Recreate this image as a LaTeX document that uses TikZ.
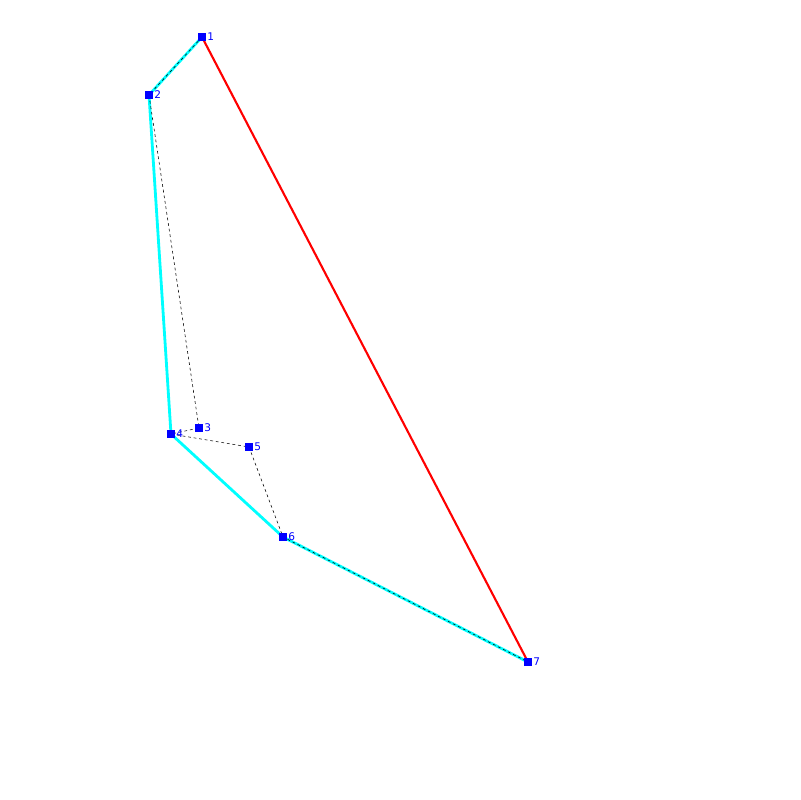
\documentclass[tikz,border=0pt]{standalone}
\usepackage{fontspec}
\setsansfont{DejaVu Sans}
\usetikzlibrary{backgrounds}
\definecolor{hullcyan}{RGB}{0,255,255}
\definecolor{ptblue}{RGB}{0,0,255}
\definecolor{edgered}{RGB}{255,0,0}

\begin{document}
\begin{tikzpicture}[x=0.025cm, y=-0.025cm,
	pt/.style={draw=none, fill=ptblue, rectangle, minimum size=6pt, inner sep=0pt,
		label={[font=\sffamily\fontsize{7.5}{8}\selectfont, text=ptblue, inner sep=0.5pt, label distance=0pt]right:#1}},
	obhod/.style={black, thin, dash pattern=on 2pt off 2pt},
	obolochka/.style={hullcyan, line width=2pt},
	zamyk/.style={edgered, line width=1.5pt}]
	% параметры
	\def\N{800} % размер поля в пикселях

	% поле
	\useasboundingbox (0,0) rectangle (\N,\N);

	% точки
	\node[pt=1] (p1) at (202,37)  {};
	\node[pt=2] (p2) at (149,95)  {};
	\node[pt=3] (p3) at (199,428) {};
	\node[pt=4] (p4) at (171,434) {};
	\node[pt=5] (p5) at (249,447) {};
	\node[pt=6] (p6) at (283,537) {};
	\node[pt=7] (p7) at (528,662) {};

	\begin{scope}[on background layer]
		% оболочка
		\draw[obolochka] (p1.center) -- (p2.center) -- (p4.center) -- (p6.center) -- (p7.center);
		\draw[zamyk] (p7.center) -- (p1.center);

		% обход точек
		\draw[obhod] (p1.center) -- (p2.center) -- (p3.center) -- (p4.center)
			-- (p5.center) -- (p6.center) -- (p7.center);
	\end{scope}
\end{tikzpicture}
\end{document}
